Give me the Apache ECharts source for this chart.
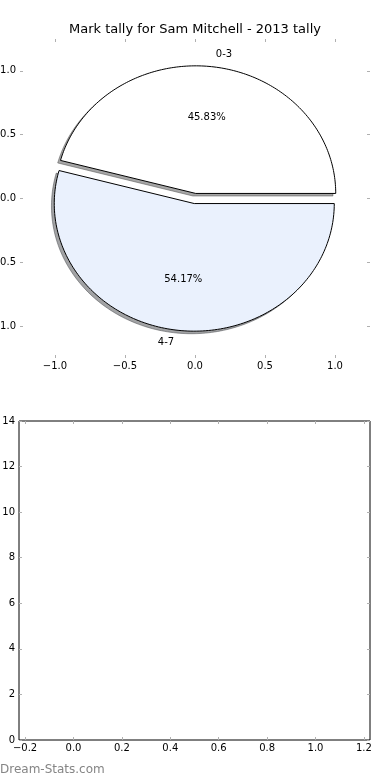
<!DOCTYPE html>
<html><head><meta charset="utf-8">
<script src="https://cdn.jsdelivr.net/npm/echarts@6.0.0/dist/echarts.min.js"></script>
<style>html,body{margin:0;padding:0;background:#fff}#c{width:390px;height:780px}</style>
</head><body><div id="c"></div>
<script>
// ---- data ----
const titleText = 'Mark tally for Sam Mitchell - 2013 tally';
const categories = ['0-3', '4-7'];
const values = [11, 13];
const explode = [0.04, 0.04];
const pieTicks = [-1, -0.5, 0, 0.5, 1];
const barXTicks = [-0.2, 0, 0.2, 0.4, 0.6, 0.8, 1.0, 1.2];
const barYTicks = [0, 2, 4, 6, 8, 10, 12, 14];
const watermark = 'Dream-Stats.com';

// ---- styles ----
const sliceColors = ['#ffffff', '#eaf1fd'];
const FONT = 'DejaVu Sans';
const TICK = '#b0b0b0';

const total = values.reduce((a, b) => a + b, 0);
let acc = 0;
const pieData = values.map((v, i) => {
  const s = acc / total; acc += v;
  return { name: categories[i], value: [s, acc / total, explode[i]] };
});

function fmt(v) { return (v < 0 ? '\u2212' : '') + Math.abs(v).toFixed(1); }

function renderSlice(params, api) {
  const i = params.dataIndex;
  const f0 = api.value(0), f1 = api.value(1), e = api.value(2);
  const t0 = f0 * 2 * Math.PI, t1 = f1 * 2 * Math.PI, tm = (t0 + t1) / 2;
  const cx = e * Math.cos(tm), cy = e * Math.sin(tm);
  const n = 160;
  const pts = [[cx, cy]];
  for (let k = 0; k <= n; k++) {
    const t = t0 + (t1 - t0) * k / n;
    pts.push([cx + Math.cos(t), cy + Math.sin(t)]);
  }
  const P = pts.map(p => api.coord(p));
  const S = pts.map(p => api.coord([p[0] - 0.02, p[1] - 0.02]));
  const rgb = echarts.color.parse(sliceColors[i]);
  const sh = 'rgba(' + [0, 1, 2].map(k => Math.round(rgb[k] * 0.3)).join(',') + ',0.5)';
  const lx = cx + 1.1 * Math.cos(tm), ly = cy + 1.1 * Math.sin(tm);
  const lab = api.coord([lx, ly]);
  const pct = api.coord([cx + 0.6 * Math.cos(tm), cy + 0.6 * Math.sin(tm)]);
  return {
    type: 'group', children: [
      { type: 'polygon', z2: 0, shape: { points: S }, style: { fill: sh, stroke: sh, lineWidth: 1 } },
      { type: 'polygon', z2: 10, shape: { points: P }, style: { fill: sliceColors[i], stroke: '#000', lineWidth: 1 } },
      { type: 'text', z2: 20, x: lab[0], y: lab[1], style: { text: categories[i], fill: '#000', fontSize: 10, fontFamily: FONT, align: lx > 0 ? 'left' : 'right', verticalAlign: 'middle' } },
      { type: 'text', z2: 20, x: pct[0], y: pct[1], style: { text: (values[i] / total * 100).toFixed(2) + '%', fill: '#000', fontSize: 10, fontFamily: FONT, align: 'center', verticalAlign: 'middle' } }
    ]
  };
}

function axis(extra, ticks, labels, margin, formatter) {
  const a = {
    type: 'value',
    axisLine: { show: false, onZero: false },
    splitLine: { show: false },
    axisTick: { show: true, inside: true, length: 3, lineStyle: { color: TICK, width: 1 } },
    axisLabel: { show: false }
  };
  if (ticks) a.axisTick.customValues = ticks;
  if (labels) a.axisLabel = { show: true, customValues: labels, formatter: formatter || fmt, fontSize: 10, fontFamily: FONT, color: '#000', margin: margin, hideOverlap: false };
  return Object.assign(a, extra);
}

const chart = echarts.init(document.getElementById('c'), null, { renderer: 'canvas' });
chart.setOption({
  animation: false,
  backgroundColor: '#fff',
  title: { text: titleText, left: 'center', top: 23, padding: 0, textStyle: { fontSize: 13, fontWeight: 'normal', fontFamily: FONT, color: '#000' } },
  grid: [
    { left: 20, top: 39, width: 350, height: 319, show: false, containLabel: false, outerBoundsMode: 'none' },
    { left: 19, top: 421, width: 351, height: 319, show: true, borderColor: '#000', borderWidth: 1, backgroundColor: 'transparent', containLabel: false, outerBoundsMode: 'none' }
  ],
  xAxis: [
    axis({ gridIndex: 0, position: 'bottom', min: -1.25, max: 1.25 }, pieTicks, pieTicks, 3),
    axis({ gridIndex: 0, position: 'top', min: -1.25, max: 1.25 }, pieTicks, null),
    axis({ gridIndex: 1, position: 'bottom', min: -0.225, max: 1.225 }, barXTicks, barXTicks, 3),
    axis({ gridIndex: 1, position: 'top', min: -0.225, max: 1.225 }, barXTicks, null)
  ],
  yAxis: [
    axis({ gridIndex: 0, position: 'left', min: -1.25, max: 1.25 }, pieTicks, pieTicks, 4),
    axis({ gridIndex: 0, position: 'right', min: -1.25, max: 1.25 }, pieTicks, null),
    axis({ gridIndex: 1, position: 'left', min: 0, max: 14 }, barYTicks, barYTicks, 4, v => String(v)),
    axis({ gridIndex: 1, position: 'right', min: 0, max: 14 }, barYTicks, null)
  ],
  graphic: [
    { type: 'text', left: 0, top: 764, style: { text: watermark, fill: '#858585', fontSize: 12, fontFamily: FONT } }
  ],
  series: [
    { type: 'custom', xAxisIndex: 0, yAxisIndex: 0, renderItem: renderSlice, data: pieData, clip: false, silent: true }
  ]
});
</script>
</body></html>
